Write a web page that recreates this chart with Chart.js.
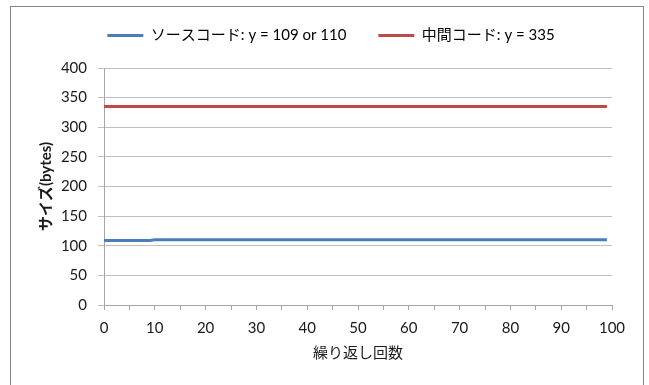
<!DOCTYPE html>
<html>
<head>
<meta charset="utf-8">
<script src="https://cdn.jsdelivr.net/npm/chart.js@4/dist/chart.umd.min.js"></script>
<style>
  html, body { margin: 0; padding: 0; background: #ffffff; }
  #wrap { position: relative; width: 649px; height: 385px; }
</style>
</head>
<body>
<div id="wrap"><canvas id="chart" width="649" height="385"></canvas></div>
<script>
// Iteration count (x) and the measured sizes in bytes for each iteration
const iterations = [
  0, 1, 2, 3, 4, 5, 6, 7, 8, 9,
  10, 11, 12, 13, 14, 15, 16, 17, 18, 19,
  20, 21, 22, 23, 24, 25, 26, 27, 28, 29,
  30, 31, 32, 33, 34, 35, 36, 37, 38, 39,
  40, 41, 42, 43, 44, 45, 46, 47, 48, 49,
  50, 51, 52, 53, 54, 55, 56, 57, 58, 59,
  60, 61, 62, 63, 64, 65, 66, 67, 68, 69,
  70, 71, 72, 73, 74, 75, 76, 77, 78, 79,
  80, 81, 82, 83, 84, 85, 86, 87, 88, 89,
  90, 91, 92, 93, 94, 95, 96, 97, 98, 99
];
const sourceSize = [
  109, 109, 109, 109, 109, 109, 109, 109, 109, 109,
  110, 110, 110, 110, 110, 110, 110, 110, 110, 110,
  110, 110, 110, 110, 110, 110, 110, 110, 110, 110,
  110, 110, 110, 110, 110, 110, 110, 110, 110, 110,
  110, 110, 110, 110, 110, 110, 110, 110, 110, 110,
  110, 110, 110, 110, 110, 110, 110, 110, 110, 110,
  110, 110, 110, 110, 110, 110, 110, 110, 110, 110,
  110, 110, 110, 110, 110, 110, 110, 110, 110, 110,
  110, 110, 110, 110, 110, 110, 110, 110, 110, 110,
  110, 110, 110, 110, 110, 110, 110, 110, 110, 110
];
const intermediateSize = [
  335, 335, 335, 335, 335, 335, 335, 335, 335, 335,
  335, 335, 335, 335, 335, 335, 335, 335, 335, 335,
  335, 335, 335, 335, 335, 335, 335, 335, 335, 335,
  335, 335, 335, 335, 335, 335, 335, 335, 335, 335,
  335, 335, 335, 335, 335, 335, 335, 335, 335, 335,
  335, 335, 335, 335, 335, 335, 335, 335, 335, 335,
  335, 335, 335, 335, 335, 335, 335, 335, 335, 335,
  335, 335, 335, 335, 335, 335, 335, 335, 335, 335,
  335, 335, 335, 335, 335, 335, 335, 335, 335, 335,
  335, 335, 335, 335, 335, 335, 335, 335, 335, 335
];
const seriesNames = ['ソースコード: y = 109 or 110', '中間コード: y = 335'];
const xTitle = '繰り返し回数';
const yTitle = 'サイズ(bytes)';

const FONT = "Lato, 'Noto Sans CJK JP', sans-serif";
const toPoints = (ys) => iterations.map((x, i) => ({ x: x, y: ys[i] }));

// Outer frame around the whole chart; legend gets extra room below and a small nudge right
const framePlugin = {
  id: 'frame',
  beforeInit(chart) {
    const legend = chart.legend;
    const origFit = legend.fit;
    legend.fit = function () {
      origFit.call(this);
      this.height += 15;
    };
    const origDraw = legend.draw;
    legend.draw = function () {
      this.ctx.save();
      this.ctx.translate(10, 0);
      origDraw.call(this);
      this.ctx.restore();
    };
  },
  beforeDraw(chart) {
    const ctx = chart.ctx;
    ctx.save();
    ctx.fillStyle = '#ffffff';
    ctx.fillRect(0, 0, chart.width, chart.height);
    ctx.strokeStyle = '#868686';
    ctx.lineWidth = 1;
    ctx.strokeRect(10.5, 6.5, 633, 400);
    ctx.restore();
  }
};

new Chart(document.getElementById('chart'), {
  type: 'line',
  data: {
    datasets: [
      {
        label: seriesNames[0],
        data: toPoints(sourceSize),
        borderColor: '#4a7ebb',
        backgroundColor: '#4a7ebb',
        borderWidth: 3,
        pointRadius: 0,
        tension: 0
      },
      {
        label: seriesNames[1],
        data: toPoints(intermediateSize),
        borderColor: '#be4b48',
        backgroundColor: '#be4b48',
        borderWidth: 3,
        pointRadius: 0,
        tension: 0
      }
    ]
  },
  options: {
    responsive: false,
    animation: false,
    devicePixelRatio: 1,
    layout: { padding: { left: 30, right: 37, top: -4, bottom: 23 } },
    plugins: {
      tooltip: { enabled: false },
      legend: {
        position: 'top',
        labels: {
          color: '#1a1a1a',
          font: { family: FONT, size: 15 },
          boxWidth: 36,
          boxHeight: 3,
          padding: 32,
          generateLabels(chart) {
            return chart.data.datasets.map((ds, i) => ({
              text: ds.label,
              fillStyle: ds.borderColor,
              strokeStyle: ds.borderColor,
              lineWidth: 0,
              hidden: false,
              datasetIndex: i
            }));
          }
        }
      }
    },
    scales: {
      x: {
        type: 'linear',
        min: 0,
        max: 100,
        ticks: {
          stepSize: 5,
          color: '#1a1a1a',
          font: { family: FONT, size: 15 },
          padding: 9,
          maxRotation: 0,
          autoSkip: false,
          callback: (v) => (v % 10 === 0 ? String(v) : '')
        },
        grid: {
          drawOnChartArea: false,
          drawTicks: true,
          tickLength: 5,
          color: '#a6a6a6'
        },
        border: { color: '#a6a6a6', width: 1 },
        title: {
          display: true,
          text: xTitle,
          color: '#1a1a1a',
          font: { family: FONT, size: 15 },
          padding: { top: -2, bottom: 0 }
        }
      },
      y: {
        min: 0,
        max: 400,
        ticks: {
          stepSize: 50,
          color: '#1a1a1a',
          font: { family: FONT, size: 15 },
          padding: 11
        },
        grid: {
          color: '#bfbfbf',
          tickLength: 6,
          drawTicks: true
        },
        border: { color: '#a6a6a6', width: 1 },
        title: {
          display: true,
          text: yTitle,
          color: '#1a1a1a',
          font: { family: FONT, size: 15, weight: 'bold' },
          padding: { top: 7, bottom: 4 }
        },
        afterFit(scale) { scale.width = 74; }
      }
    }
  },
  plugins: [framePlugin]
});
</script>
</body>
</html>
